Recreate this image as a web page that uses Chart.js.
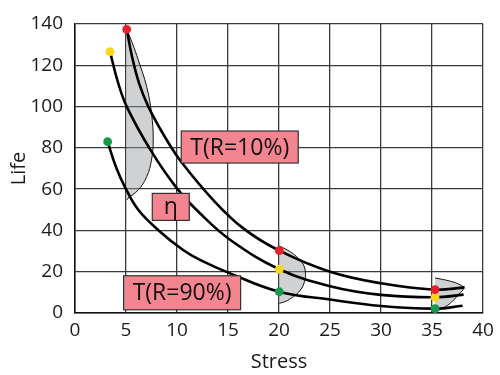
<!DOCTYPE html>
<html>
<head>
<meta charset="utf-8">
<script src="https://cdn.jsdelivr.net/npm/chart.js@4.4.0/dist/chart.umd.min.js"></script>
<style>
html, body { margin: 0; padding: 0; background: #fff; }
</style>
</head>
<body>
<canvas id="life_chart" width="500" height="375"></canvas>
<script>
// life curves (stress, life)
var redX = [5.07, 5.6, 6.3, 7.19, 8.8, 10.45, 13.56, 16.5, 20.03, 25, 30, 35.3, 38.2];
var redY = [137.4, 124, 111, 100, 85.4, 73, 54.7, 41, 30.2, 20, 14.4, 11.3, 12.4];
var midX = [3.43, 4.2, 5.07, 7.4, 9.9, 12.25, 15.2, 20.03, 25, 30, 35.3, 38.1];
var midY = [126.6, 112, 100, 79, 61, 48.3, 35.5, 21.2, 13, 8.8, 7.6, 8.9];
var lowX = [3.2, 4.0, 4.9, 6.2, 8.2, 10.6, 12.25, 15.2, 20.03, 25, 30, 35.3, 38.0];
var lowY = [83, 71, 61, 50, 40, 30.5, 25.7, 19.2, 10.3, 6.5, 3.4, 2.1, 3.5];

// the three pdf shapes
var pdf1X = [5.07, 5.6, 6.2, 7.03, 7.5, 7.67, 7.5, 7.03, 6.2, 5.2, 5.07];
var pdf1Y = [137.4, 131, 122.6, 109.6, 96.7, 83.8, 74.1, 66, 59.6, 55.6, 54.7];
var pdf2X = [20.03, 21.1, 21.9, 22.4, 22.6, 22.5, 22.1, 21.4, 20.6, 20.03];
var pdf2Y = [32.5, 29.7, 26.5, 23.3, 19.2, 15.2, 11.1, 7.9, 5.5, 4.7];
var pdf3X = [35.3, 36.8, 37.75, 38.1, 37.6, 36.8, 35.8, 35.3];
var pdf3Y = [17, 15.4, 13.7, 12.1, 8.9, 4.8, 1.6, 0.8];

// coloured dots
var redDotX = [5.07, 20.03, 35.3];
var redDotY = [137.4, 30.2, 11.3];
var yellowDotX = [3.43, 20.03, 35.3];
var yellowDotY = [126.6, 21.2, 7.6];
var greenDotX = [3.2, 20.03, 35.3];
var greenDotY = [83, 10.3, 2.1];

// boxed labels
var labelText = ["T(R=10%)", "\u03b7", "T(R=90%)"];
var labelX = [16.15, 9.39, 10.5];
var labelY = [80.4, 51.4, 9.8];

function pts(xs, ys){
	var out = [];
	for(var i=0; i<xs.length; i++){
		out.push({x: xs[i], y: ys[i]});
	}
	return out;
}

var boxW = [117, 37, 117];
var boxH = [32, 27, 34];

var boxPlugin = {
	id: 'boxes',
	afterDatasetsDraw: function(chart){
		var c = chart.ctx;
		var xs = chart.scales.x, ys = chart.scales.y;
		c.save();
		for(var i=0; i<labelText.length; i++){
			var px = xs.getPixelForValue(labelX[i]);
			var py = ys.getPixelForValue(labelY[i]);
			var w = boxW[i], h = boxH[i];
			c.fillStyle = '#f2858f';
			c.strokeStyle = '#333';
			c.lineWidth = 1.2;
			c.fillRect(px - w/2, py - h/2, w, h);
			c.strokeRect(px - w/2, py - h/2, w, h);
			c.fillStyle = '#111';
			c.font = '23px "Open Sans"';
			c.textAlign = 'center';
			c.textBaseline = 'middle';
			c.fillText(labelText[i], px, py + 1);
		}
		c.restore();
	}
};

function curve(xs, ys){
	return {
		data: pts(xs, ys),
		showLine: true,
		borderColor: '#000',
		borderWidth: 2.6,
		pointRadius: 0,
		tension: 0.4,
		fill: false,
		order: 2
	};
}

function pdf(xs, ys){
	return {
		data: pts(xs, ys),
		showLine: true,
		borderColor: '#111',
		borderWidth: 1,
		backgroundColor: 'rgba(150,153,158,0.45)',
		pointRadius: 0,
		tension: 0.4,
		fill: 'shape',
		order: 3
	};
}

function dots(xs, ys, col){
	return {
		data: pts(xs, ys),
		showLine: false,
		pointRadius: 4.4,
		pointBorderWidth: 0,
		pointBackgroundColor: col,
		pointBorderColor: col,
		order: 1
	};
}

Chart.defaults.font.family = '"Open Sans", sans-serif';
Chart.defaults.color = '#1a1a1a';

var ctx = document.getElementById("life_chart");
var myChart = new Chart(ctx, {
	type: 'scatter',
	data: {
		datasets: [
			pdf(pdf1X, pdf1Y),
			pdf(pdf2X, pdf2Y),
			pdf(pdf3X, pdf3Y),
			curve(redX, redY),
			curve(midX, midY),
			curve(lowX, lowY),
			dots(redDotX, redDotY, '#e8202a'),
			dots(yellowDotX, yellowDotY, '#f9d616'),
			dots(greenDotX, greenDotY, '#17984a')
		]
	},
	options: {
		responsive: false,
		animation: false,
		layout: { padding: { left: 0, right: 17, top: 24, bottom: 0 } },
		plugins: { legend: { display: false }, tooltip: { enabled: false } },
		scales: {
			x: {
				type: 'linear', min: 0, max: 40,
				ticks: { stepSize: 5, padding: 6, font: { size: 19 }, maxRotation: 0 },
				grid: { color: '#3a3a3a', lineWidth: 1.3, drawTicks: false },
				border: { display: true, color: '#111', width: 1.5 },
				title: { display: true, text: 'Stress', font: { size: 20 }, padding: { top: 0, bottom: 1 } },
				afterFit: function(s){ s.height = 62; }
			},
			y: {
				type: 'linear', min: 0, max: 140,
				ticks: { stepSize: 20, padding: 12, font: { size: 19 } },
				grid: { color: '#3a3a3a', lineWidth: 1.3, drawTicks: false },
				border: { display: true, color: '#111', width: 1.5 },
				title: { display: true, text: 'Life', font: { size: 20 }, padding: { top: 7, bottom: 0 } },
				afterFit: function(s){ s.width = 75; }
			}
		}
	},
	plugins: [boxPlugin]
});
</script>
</body>
</html>
